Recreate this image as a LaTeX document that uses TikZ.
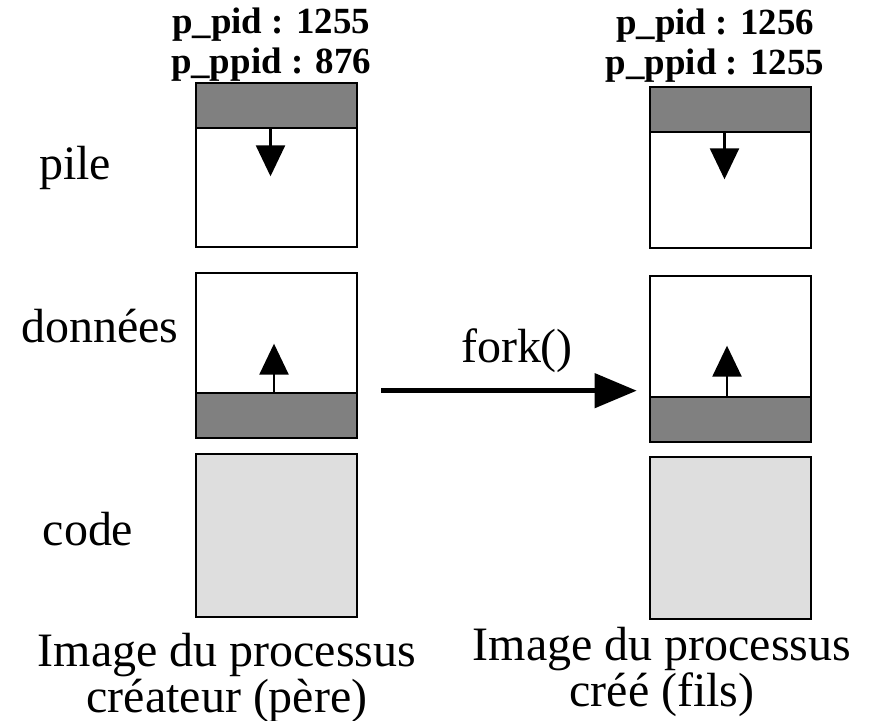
\documentclass[tikz,border=0pt]{standalone}
\usepackage{fontspec}
\setmainfont{Liberation Serif}
\usetikzlibrary{arrows.meta,positioning}
\definecolor{bandgray}{gray}{0.5}
\definecolor{codegray}{gray}{0.87}
\tikzset{
	segbox/.style={draw,rectangle,line width=1.5pt,minimum width=3.22cm,inner sep=0pt},
	band/.style={segbox,fill=bandgray,minimum height=0.9cm},
	codebox/.style={segbox,fill=codegray},
	seglabel/.style={font=\fontsize{27.3}{24.4}\selectfont,inner sep=0pt,anchor=base,align=center},
	pidlabel/.style={font=\fontsize{21}{22.8}\selectfont\bfseries,inner sep=0pt,anchor=base,align=center},
	growarrow/.style={line width=1.4pt,-{Triangle[length=0.62cm,width=0.58cm]}},
	forkarrow/.style={line width=2.55pt,-{Triangle[length=0.84cm,width=0.68cm]}}
}

\begin{document}
\begin{tikzpicture}
	\useasboundingbox (0,0) rectangle (17.44,14.4);
	% processus createur
	\node[segbox,minimum height=3.28cm] (pileP) at (5.53,11.1) {};
	\node[band,anchor=north] (bandPileP) at (pileP.north) {};
	\node[segbox,minimum height=3.3cm] (donP) at (5.53,7.29) {};
	\node[band,anchor=south] (bandDonP) at (donP.south) {};
	\node[codebox,minimum height=3.26cm] (codeP) at (5.53,3.69) {};
	\draw[growarrow] ([xshift=-0.12cm]bandPileP.south) -- ++(0,-0.94) coordinate (headPileP);
	\draw[growarrow] ([xshift=-0.05cm]bandDonP.north) -- ++(0,0.96) coordinate (headDonP);
	\node[pidlabel] (pidP) at (5.42,12.92) {p\_pid : 1255\\p\_ppid : 876};
	% processus cree
	\node[segbox,minimum height=3.22cm] (pileF) at (14.61,11.05) {};
	\node[band,anchor=north] (bandPileF) at (pileF.north) {};
	\node[segbox,minimum height=3.32cm] (donF) at (14.61,7.22) {};
	\node[band,anchor=south] (bandDonF) at (donF.south) {};
	\node[codebox,minimum height=3.24cm] (codeF) at (14.61,3.64) {};
	\draw[growarrow] ([xshift=-0.12cm]bandPileF.south) -- ++(0,-0.92) coordinate (headPileF);
	\draw[growarrow] ([xshift=-0.07cm]bandDonF.north) -- ++(0,1.0) coordinate (headDonF);
	\node[pidlabel] (pidF) at (14.3,12.9) {p\_pid : 1256\\p\_ppid : 1255};
	% segments
	\node[seglabel] (pile) at (1.5,10.8) {pile};
	\node[seglabel] (donnees) at (2.0,7.54) {données};
	\node[seglabel] (code) at (1.76,3.5) {code};
	% fork
	\draw[forkarrow,shorten >=0.24cm] ([xshift=0.46cm,yshift=0.02cm]bandDonP.north east) coordinate (forkstart)
		-- (forkstart -| bandDonF.west);
	\node[seglabel] (fork) at (10.34,7.14) {fork()};
	% legendes
	\node[seglabel] (capP) at (4.54,0.16) {Image du processus\\créateur (père)};
	\node[seglabel] (capF) at (13.24,0.28) {Image du processus\\créé (fils)};
\end{tikzpicture}
\end{document}
